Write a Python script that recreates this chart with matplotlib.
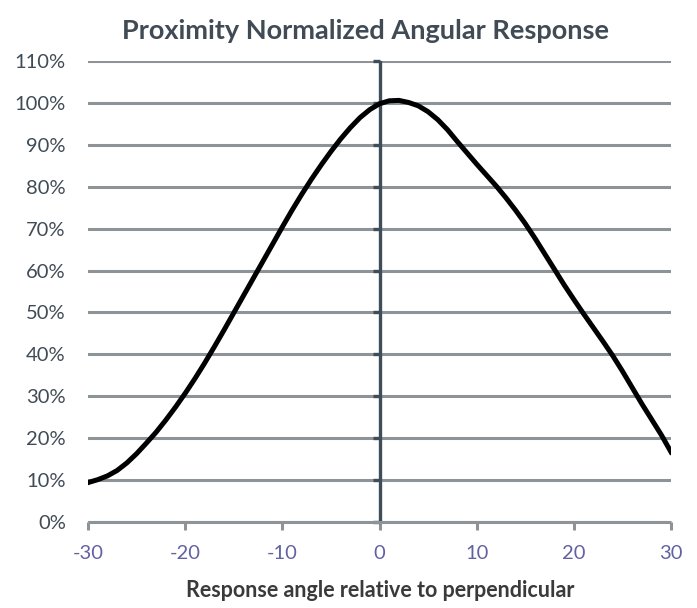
import matplotlib
matplotlib.use("Agg")
import matplotlib.pyplot as plt
import numpy as np

# response curve (angle in degrees, response in %)
angle = list(range(-30, 31))
response = [9.4, 10.1, 11.0, 12.3, 14.1, 16.3, 18.8, 21.4, 24.3, 27.4,
            30.7, 34.2, 37.9, 41.8, 45.8, 49.9, 54.0, 58.1, 62.2, 66.3,
            70.4, 74.4, 78.2, 81.8, 85.2, 88.4, 91.4, 94.1, 96.5, 98.4,
            99.8, 100.5, 100.6, 100.1, 99.3, 97.9, 96.0, 93.6, 90.8, 88.1,
            85.4, 82.8, 80.2, 77.4, 74.4, 71.2, 67.7, 64.0, 60.3, 56.6,
            53.1, 49.7, 46.4, 43.1, 39.7, 36.0, 32.1, 28.2, 24.5, 20.8,
            16.7]
x_ticks = [-30, -20, -10, 0, 10, 20, 30]
y_ticks = [0, 10, 20, 30, 40, 50, 60, 70, 80, 90, 100, 110]

title = "Proximity Normalized Angular Response"
x_title = "Response angle relative to perpendicular"

grid_col = "#8E9398"
axis_col = "#3F4D59"
label_col = "#404B55"
purple = "#6262A2"

plt.rcParams['font.family'] = ['Lato', 'DejaVu Sans']

W, H = 697, 608
fig = plt.figure(figsize=(W / 100, H / 100), dpi=100)
ax = fig.add_axes([88 / W, 1 - 522 / H, (671 - 88) / W, (522 - 61) / H])

ax.set_xlim(-30, 30)
ax.set_ylim(0, 110)

ax.set_yticks(y_ticks)
ax.set_yticklabels([f"{v}%" for v in y_ticks])
ax.set_xticks(x_ticks)
ax.set_xticklabels([str(v) for v in x_ticks])

ax.yaxis.grid(True, color=grid_col, lw=2.2, zorder=1)
ax.set_axisbelow(True)
for s in ['top', 'right', 'left']:
    ax.spines[s].set_visible(False)
ax.spines['bottom'].set_color(grid_col)
ax.spines['bottom'].set_linewidth(2.2)
ax.spines['bottom'].set_capstyle('butt')

ax.tick_params(axis='y', length=0, pad=16, labelsize=14.5, labelcolor=label_col)
ax.tick_params(axis='x', direction='out', length=5.5, width=2.2, color=grid_col,
               pad=11, labelsize=14.5, labelcolor=purple)

# vertical axis at zero with its small ticks
ax.axvline(0, color=axis_col, lw=2.4, zorder=2)
ax.plot(np.zeros(len(y_ticks)), y_ticks, ls='none', marker=0, ms=5, mew=2.4,
        color=axis_col, zorder=2, clip_on=False)

ax.plot(angle, response, color='black', lw=3.6, solid_joinstyle='round', zorder=3)

fig.text(366 / W, 1 - 39 / H, title, ha='center', va='baseline', fontsize=19.5,
         fontweight='bold', color=label_col)
fig.text(380 / W, 1 - 597 / H, x_title, ha='center', va='baseline', fontsize=15.5,
         fontweight='bold', color='#3A3A3A')

fig.savefig("out.png", dpi=100)
